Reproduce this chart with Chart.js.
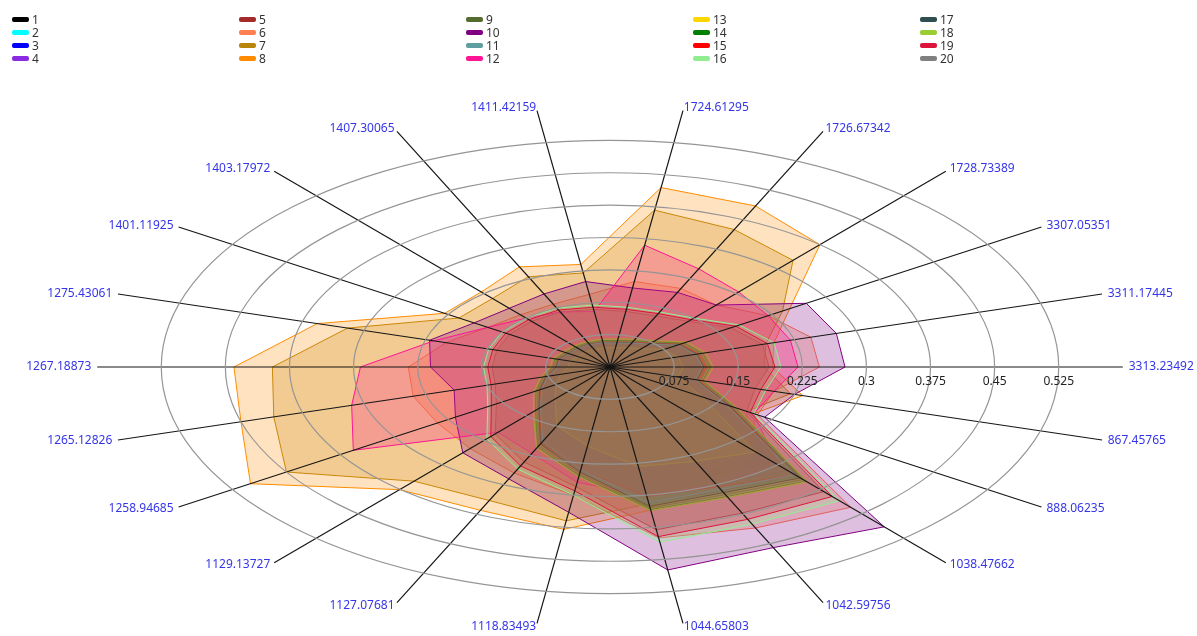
<!DOCTYPE html>
<html>
<head>
<meta charset="utf-8">
<title>Peak radar</title>
<script src="https://cdn.jsdelivr.net/npm/chart.js@4.4.1/dist/chart.umd.min.js"></script>
<style>
  html, body { margin: 0; padding: 0; background: #fff; }
  #wrap { position: relative; width: 1197px; height: 636px; overflow: hidden; }
  #legend {
    position: absolute; left: 12px; top: 13px;
    display: grid;
    grid-template-columns: repeat(5, 227px);
    grid-template-rows: repeat(4, 13px);
    grid-auto-flow: column;
    font: 12px 'Noto Sans', sans-serif; color: #333;
  }
  .item { display: flex; align-items: center; height: 13px; }
  .swatch { width: 17px; height: 5px; border-radius: 2px; margin-right: 3px; }
</style>
</head>
<body>
<div id="wrap">
  <canvas id="chart" width="1197" height="636"></canvas>
  <div id="legend"></div>
</div>
<script>
// spokes, clockwise from just right of 12 o'clock
const axisLabels = ['1724.61295', '1726.67342', '1728.73389', '3307.05351', '3311.17445', '3313.23492',
  '867.45765', '888.06235', '1038.47662', '1042.59756', '1044.65803', '1118.83493', '1127.07681',
  '1129.13727', '1258.94685', '1265.12826', '1267.18873', '1275.43061', '1401.11925', '1403.17972',
  '1407.30065', '1411.42159'];

const seriesNames = ['1', '2', '3', '4', '5', '6', '7', '8', '9', '10',
  '11', '12', '13', '14', '15', '16', '17', '18', '19', '20'];

const seriesColors = ['#000000', '#00FFFF', '#0000FF', '#8A2BE2', '#A52A2A', '#FF7F50', '#B8860B',
  '#FF8C00', '#556B2F', '#800080', '#5F9EA0', '#FF1493', '#FFD700', '#008000', '#FF0000',
  '#90EE90', '#2F4F4F', '#9ACD32', '#DC143C', '#808080'];

const s1 = [0.052, 0.056, 0.064, 0.085, 0.093, 0.098, 0.094, 0.146, 0.292, 0.278, 0.281, 0.214, 0.171, 0.112, 0.086, 0.069, 0.056, 0.055, 0.052, 0.051, 0.052, 0.051];
const s2 = [0.048, 0.052, 0.060, 0.080, 0.088, 0.092, 0.088, 0.136, 0.276, 0.260, 0.264, 0.200, 0.160, 0.104, 0.080, 0.064, 0.052, 0.052, 0.048, 0.048, 0.048, 0.048];
const s3 = [0.055, 0.060, 0.069, 0.092, 0.101, 0.106, 0.101, 0.156, 0.317, 0.299, 0.304, 0.230, 0.184, 0.120, 0.092, 0.074, 0.060, 0.060, 0.055, 0.055, 0.055, 0.055];
const s4 = [0.058, 0.063, 0.072, 0.097, 0.107, 0.112, 0.107, 0.165, 0.335, 0.315, 0.320, 0.243, 0.194, 0.126, 0.097, 0.078, 0.063, 0.063, 0.058, 0.058, 0.058, 0.058];
const s5 = [0.130, 0.130, 0.140, 0.168, 0.186, 0.186, 0.177, 0.190, 0.382, 0.372, 0.381, 0.280, 0.242, 0.205, 0.158, 0.140, 0.138, 0.138, 0.140, 0.140, 0.140, 0.135];
const s6 = [0.200, 0.200, 0.190, 0.220, 0.245, 0.245, 0.200, 0.205, 0.430, 0.410, 0.400, 0.300, 0.270, 0.250, 0.240, 0.240, 0.236, 0.200, 0.170, 0.160, 0.160, 0.170];
const s7 = [0.367, 0.350, 0.327, 0.240, 0.190, 0.180, 0.220, 0.190, 0.250, 0.270, 0.320, 0.360, 0.340, 0.350, 0.450, 0.410, 0.395, 0.320, 0.210, 0.210, 0.230, 0.220];
const s8 = [0.420, 0.410, 0.375, 0.250, 0.200, 0.190, 0.235, 0.200, 0.260, 0.300, 0.335, 0.380, 0.365, 0.376, 0.500, 0.450, 0.440, 0.357, 0.230, 0.230, 0.255, 0.240];
const s9 = [0.060, 0.065, 0.075, 0.100, 0.110, 0.115, 0.110, 0.170, 0.345, 0.325, 0.330, 0.250, 0.200, 0.130, 0.100, 0.080, 0.065, 0.065, 0.060, 0.060, 0.060, 0.060];
const s10 = [0.185, 0.190, 0.190, 0.273, 0.276, 0.275, 0.225, 0.215, 0.490, 0.460, 0.475, 0.340, 0.285, 0.263, 0.215, 0.190, 0.210, 0.220, 0.189, 0.180, 0.186, 0.200];
const s11 = [0.057, 0.062, 0.071, 0.096, 0.105, 0.109, 0.105, 0.163, 0.336, 0.317, 0.322, 0.244, 0.193, 0.125, 0.096, 0.077, 0.062, 0.062, 0.058, 0.058, 0.058, 0.058];
const s12 = [0.285, 0.250, 0.230, 0.220, 0.220, 0.220, 0.200, 0.200, 0.300, 0.300, 0.300, 0.270, 0.220, 0.200, 0.357, 0.315, 0.292, 0.215, 0.170, 0.150, 0.140, 0.130];
const s13 = [0.045, 0.049, 0.056, 0.075, 0.083, 0.086, 0.083, 0.128, 0.260, 0.240, 0.233, 0.185, 0.150, 0.098, 0.075, 0.060, 0.049, 0.049, 0.045, 0.045, 0.045, 0.045];
const s14 = [0.062, 0.067, 0.077, 0.103, 0.113, 0.118, 0.113, 0.174, 0.350, 0.330, 0.334, 0.254, 0.204, 0.133, 0.103, 0.082, 0.067, 0.067, 0.062, 0.062, 0.062, 0.062];
const s15 = [0.058, 0.063, 0.073, 0.098, 0.108, 0.113, 0.108, 0.166, 0.330, 0.305, 0.303, 0.240, 0.193, 0.126, 0.097, 0.077, 0.063, 0.063, 0.058, 0.058, 0.058, 0.058];
const s16 = [0.140, 0.140, 0.150, 0.180, 0.200, 0.200, 0.190, 0.200, 0.410, 0.400, 0.410, 0.300, 0.260, 0.220, 0.170, 0.150, 0.148, 0.148, 0.150, 0.150, 0.150, 0.145];
const s17 = [0.058, 0.062, 0.072, 0.097, 0.106, 0.110, 0.106, 0.167, 0.340, 0.320, 0.326, 0.246, 0.196, 0.127, 0.098, 0.078, 0.063, 0.063, 0.058, 0.058, 0.058, 0.058];
const s18 = [0.066, 0.071, 0.081, 0.107, 0.117, 0.121, 0.116, 0.177, 0.352, 0.332, 0.336, 0.257, 0.207, 0.137, 0.106, 0.085, 0.070, 0.070, 0.065, 0.065, 0.065, 0.065];
const s19 = [0.135, 0.136, 0.145, 0.175, 0.192, 0.193, 0.184, 0.195, 0.397, 0.388, 0.397, 0.290, 0.252, 0.213, 0.165, 0.145, 0.143, 0.143, 0.145, 0.145, 0.145, 0.140];
const s20 = [0.056, 0.061, 0.070, 0.094, 0.104, 0.108, 0.104, 0.162, 0.330, 0.312, 0.318, 0.240, 0.190, 0.124, 0.095, 0.076, 0.061, 0.061, 0.057, 0.057, 0.057, 0.057];

const seriesValues = [s1, s2, s3, s4, s5, s6, s7, s8, s9, s10, s11, s12, s13, s14, s15, s16, s17, s18, s19, s20];

const rangeMax = 0.6;
const rangeStep = 0.075;

// the plot is wider than tall: horizontal distances get multiplied by this
const STRETCH = 1.98;

class EllipseRadialScale extends Chart.RadialLinearScale {
  static id = 'ellipseRadial';
  static defaults = Chart.RadialLinearScale.defaults;

  getPointPosition(index, distance, additionalAngle = 0) {
    const p = super.getPointPosition(index, distance, additionalAngle);
    p.x = this.xCenter + (p.x - this.xCenter) * STRETCH;
    return p;
  }

  // keep centre and radius from the chart area, labels live in the padding
  setCenterPoint() {}

  fit() {
    super.fit();
    const opts = this.options.pointLabels;
    const lh = Chart.helpers.toFont(opts.font).lineHeight;
    this._pointLabelItems.forEach((item, i) => {
      const end = this.getPointPosition(i, this.drawingArea + opts.padding);
      item.y = end.y - lh / 2;
      item.top = item.y;
      item.bottom = item.y + lh;
    });
  }

  drawGrid() {
    super.drawGrid();
    const ctx = this.ctx;
    ctx.save();
    ctx.strokeStyle = '#959595';
    ctx.lineWidth = 1.2;
    this.ticks.forEach((tick, i) => {
      if (i === 0 || tick.value >= this.max - 1e-9) return;
      const r = this.getDistanceFromCenterForValue(tick.value);
      ctx.beginPath();
      ctx.ellipse(this.xCenter, this.yCenter, r * STRETCH, r, 0, 0, Math.PI * 2);
      ctx.stroke();
    });
    ctx.restore();
  }

  // values are written along the right hand spoke, under the line
  drawLabels() {
    const ctx = this.ctx;
    const opts = this.options.ticks;
    ctx.save();
    ctx.font = Chart.helpers.toFont(opts.font).string;
    ctx.fillStyle = opts.color;
    ctx.textAlign = 'center';
    ctx.textBaseline = 'middle';
    this.ticks.forEach((tick, i) => {
      if (i === 0 || tick.value >= this.max - 1e-9) return;
      const x = this.xCenter + this.getDistanceFromCenterForValue(tick.value) * STRETCH;
      ctx.fillText(String(+tick.value.toFixed(3)), x, this.yCenter + 15);
    });
    ctx.restore();
  }
}
Chart.register(EllipseRadialScale);

// later series are painted over earlier ones
const datasets = seriesValues.map((values, i) => ({
  label: seriesNames[i],
  data: values,
  order: -i,
  borderColor: seriesColors[i],
  backgroundColor: seriesColors[i] + '40',
  borderWidth: 1,
  fill: true,
  pointRadius: 0,
  pointHoverRadius: 0
}));

const chart = new Chart(document.getElementById('chart'), {
  type: 'radar',
  data: { labels: axisLabels, datasets: datasets },
  options: {
    responsive: false,
    animation: false,
    layout: { padding: { top: 108, bottom: 10, left: 30, right: 7 } },
    elements: { line: { tension: 0 } },
    plugins: {
      legend: { display: false },
      tooltip: { enabled: false }
    },
    scales: {
      r: {
        type: 'ellipseRadial',
        min: 0,
        max: rangeMax,
        startAngle: 360 / 44,
        grid: { display: false, z: 1 },
        angleLines: { color: '#161616', lineWidth: 1.2 },
        ticks: {
          display: false,
          stepSize: rangeStep,
          z: 1,
          color: '#222',
          font: { family: "'Noto Sans', sans-serif", size: 12 }
        },
        pointLabels: {
          color: '#3535e8',
          padding: 3,
          font: { family: "'Noto Sans', sans-serif", size: 12 }
        }
      }
    }
  }
});

// legend laid out column by column, four rows
const legendBox = document.getElementById('legend');
chart.data.datasets.forEach(ds => {
  const item = document.createElement('div');
  item.className = 'item';
  item.innerHTML = `<span class="swatch" style="background:${ds.borderColor}"></span>${ds.label}`;
  legendBox.appendChild(item);
});
</script>
</body>
</html>
